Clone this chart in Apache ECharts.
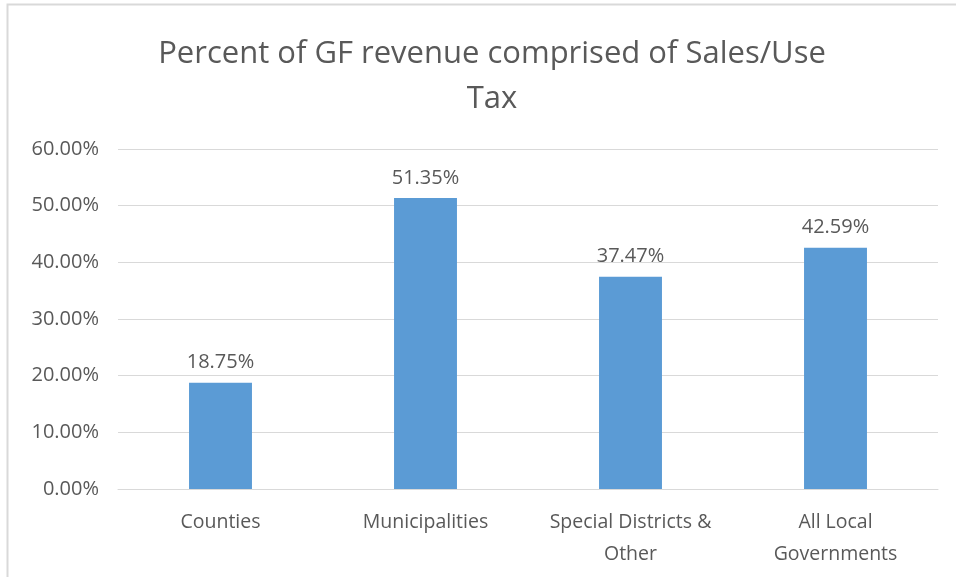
<!DOCTYPE html>
<html>
<head>
<meta charset="utf-8">
<script src="https://cdn.jsdelivr.net/npm/echarts@6/dist/echarts.min.js"></script>
<style>
html,body{margin:0;padding:0;background:#fff;}
#c{width:956px;height:577px;}
</style>
</head>
<body>
<div id="c"></div>
<script>
const categories = ["Counties", "Municipalities", "Special Districts &\nOther", "All Local\nGovernments"];
const values = [18.75, 51.35, 37.47, 42.59];
const yTicks = [0, 10, 20, 30, 40, 50, 60];
const titleText = "Percent of GF revenue comprised of Sales/Use\nTax";

const chart = echarts.init(document.getElementById('c'), null, {renderer: 'canvas'});
const font = '"Open Sans", "Noto Sans", sans-serif';
chart.setOption({
  animation: false,
  backgroundColor: '#ffffff',
  graphic: [{
    type: 'rect', shape: {x: 7.5, y: 4.5, width: 1000, height: 700},
    style: {fill: 'none', stroke: '#d9d9d9', lineWidth: 2}, silent: true
  }],
  title: {
    text: titleText,
    left: 487, top: 27, textAlign: 'center',
    textStyle: {fontFamily: font, fontWeight: 'normal', fontSize: 31, color: '#595959', lineHeight: 45}
  },
  grid: {left: 118, right: 18, top: 149, bottom: 88, containLabel: false},
  xAxis: {
    type: 'category', data: categories,
    axisLine: {show: true, lineStyle: {color: '#d9d9d9', width: 1}},
    axisTick: {show: false},
    axisLabel: {interval: 0, hideOverlap: false, fontFamily: font, fontSize: 19.5, color: '#595959', margin: 17, lineHeight: 32}
  },
  yAxis: {
    type: 'value', min: yTicks[0], max: yTicks[yTicks.length - 1], interval: 10,
    axisLine: {show: false}, axisTick: {show: false},
    splitLine: {lineStyle: {color: '#d9d9d9', width: 1}},
    axisLabel: {fontFamily: font, fontSize: 20, color: '#595959', margin: 19,
      formatter: v => v.toFixed(2) + '%'}
  },
  series: [{
    type: 'bar', data: values, barWidth: '30.7%',
    itemStyle: {color: '#5B9BD5'},
    label: {show: true, position: 'top', distance: 10, fontFamily: font, fontSize: 20, color: '#595959',
      formatter: p => p.value.toFixed(2) + '%'}
  }]
});
</script>
</body>
</html>
